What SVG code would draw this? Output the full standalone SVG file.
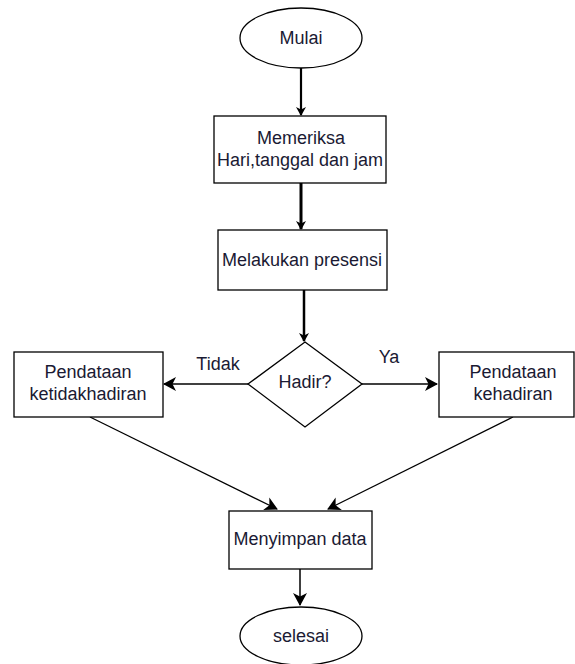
<svg xmlns="http://www.w3.org/2000/svg" width="575" height="664" viewBox="0 0 575 664">
<style>
.s{fill:#fff;stroke:#000;stroke-width:1.3}
.t{font-family:"Liberation Sans",Arial,sans-serif;font-size:18px;fill:#1a1a33;text-anchor:middle}
.c{fill:none;stroke:#000}
</style>
<defs>
<marker id="a" markerWidth="10" markerHeight="10" refX="8" refY="5" orient="auto" markerUnits="userSpaceOnUse">
<path d="M0,0 L9,5 L0,10 L2.5,5 Z" fill="#000"/>
</marker>
<marker id="b" markerWidth="14" markerHeight="14" refX="12" refY="7" orient="auto" markerUnits="userSpaceOnUse">
<path d="M0,0 L13,7 L0,14 L3.5,7 Z" fill="#000"/>
</marker>
</defs>
<g id="connectors">
<path class="c" d="M301,67 V115" stroke-width="2.2" marker-end="url(#a)"/>
<path class="c" d="M301,183 V229" stroke-width="3" marker-end="url(#a)"/>
<path class="c" d="M304,290 V341" stroke-width="2.5" marker-end="url(#a)"/>
<path class="c" d="M248,384 H164" stroke-width="1.5" marker-end="url(#b)"/>
<path class="c" d="M362,384 H437" stroke-width="1.5" marker-end="url(#b)"/>
<path class="c" d="M90,417 L277,509" stroke-width="1.3" marker-end="url(#b)"/>
<path class="c" d="M513,417 L328,509" stroke-width="1.3" marker-end="url(#b)"/>
<path class="c" d="M300,569 V605" stroke-width="1.5" marker-end="url(#b)"/>
<text class="t" x="218" y="370">Tidak</text>
<text class="t" x="389" y="363">Ya</text>
</g>
<g id="mulai"><ellipse class="s" cx="301" cy="38" rx="61" ry="30"/><text class="t" x="301" y="44">Mulai</text></g>
<g id="memeriksa"><rect class="s" x="214" y="116" width="172" height="67"/><text class="t" x="301" y="144">Memeriksa</text><text class="t" x="300" y="166">Hari,tanggal dan jam</text></g>
<g id="presensi"><rect class="s" x="218" y="230" width="169" height="60"/><text class="t" x="302" y="266">Melakukan presensi</text></g>
<g id="hadir"><polygon class="s" points="305,342 362,384 305,427 248,384"/><text class="t" x="305" y="388">Hadir?</text></g>
<g id="ketidakhadiran"><rect class="s" x="14" y="352" width="149" height="65"/><text class="t" x="88" y="378">Pendataan</text><text class="t" x="88" y="400">ketidakhadiran</text></g>
<g id="kehadiran"><rect class="s" x="439" y="352" width="135" height="65"/><text class="t" x="513" y="378">Pendataan</text><text class="t" x="513" y="400">kehadiran</text></g>
<g id="menyimpan"><rect class="s" x="229" y="511" width="143" height="58"/><text class="t" x="300" y="545">Menyimpan data</text></g>
<g id="selesai"><ellipse class="s" cx="301" cy="636" rx="61" ry="29"/><text class="t" x="301" y="642">selesai</text></g>
</svg>
